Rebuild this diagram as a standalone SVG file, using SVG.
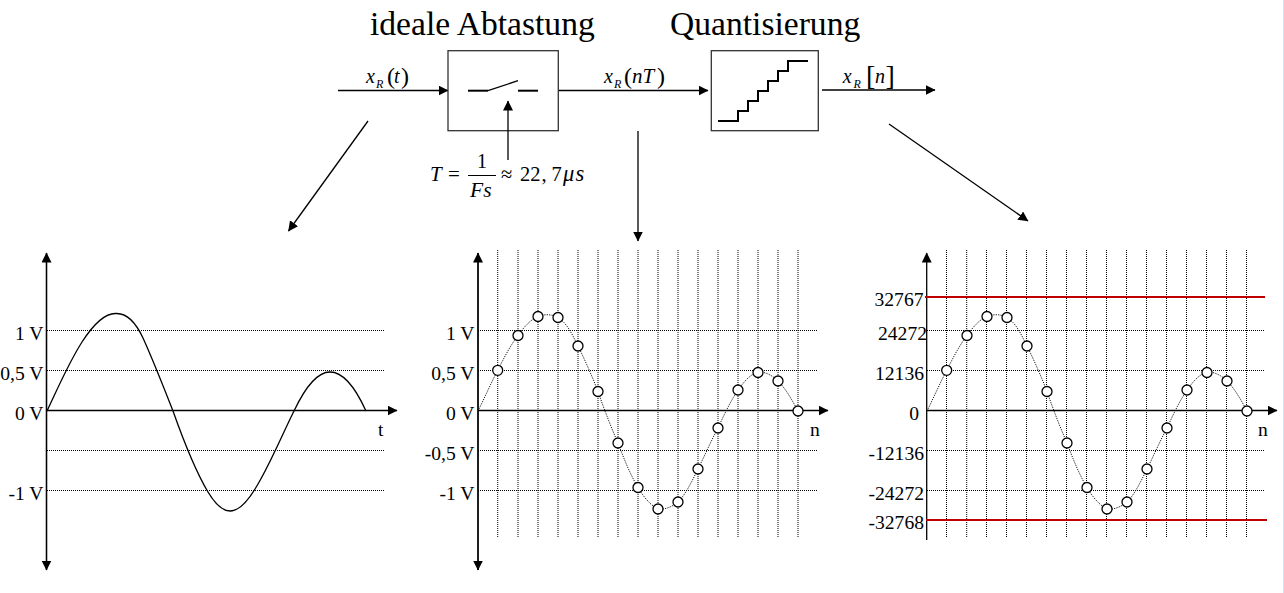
<svg xmlns="http://www.w3.org/2000/svg" width="1284" height="593" viewBox="0 0 1284 593">
<defs>
<marker id="ah" markerUnits="userSpaceOnUse" markerWidth="12" markerHeight="12" refX="9.5" refY="5" orient="auto"><path d="M0,0L10,5L0,10Z" fill="#000"/></marker>
<g id="pt"><circle r="5" class="pt"/></g>
<path id="samples" d="M478,411C485,397 491,383 497.7,370.3C504,358 510,346 518,335.5C524,327 530,320 538,316.5C544,314 552,314 558,317.5C567,323 572,334 578,346C585,360 592,376 598,391.5C604,409 611,427 618,443C624,459 630,474 638,487.5C643,496 650,505 658,509C664,510 672,507 678,502C686,494 692,481 698,469C705,455 711,441 718,428C724,415 730,402 738,390C744,382 750,374 758,372.5C765,371 773,376 778,381C786,389 792,400 798,411"/>
</defs>
<style>
.t{font-family:"Liberation Serif","Times New Roman",serif;fill:#000}
.a{font-size:19.6px}
.e{text-anchor:end}
.i{font-style:italic}
.ln{stroke:#000;stroke-width:1.3;fill:none}
.cn{stroke:#000;stroke-width:1.3;fill:none;marker-end:url(#ah)}
.th{stroke:#000;stroke-width:2;fill:none}
.box{fill:#fff;stroke:#333;stroke-width:1.3}
.g{stroke:#000;stroke-width:1;stroke-dasharray:1 1;fill:none}
.red{stroke:#c00000;stroke-width:2;fill:none}
.pt{fill:#fff;stroke:#000;stroke-width:1.3}
.s{stroke:#111;stroke-width:1;stroke-dasharray:1.2 1.2;fill:none}
</style>
<line x1="1283.5" y1="0" x2="1283.5" y2="593" stroke="#cfe6f5" stroke-width="1"/>
<g id="connectors">
<path class="cn" d="M338,90.5H448"/>
<path class="cn" d="M558,90.5H708"/>
<path class="cn" d="M822,90H935"/>
<path class="cn" d="M368,121L288.5,231"/>
<path class="cn" d="M638,131V241"/>
<path class="cn" d="M889,124L1028,221"/>
</g>
<g id="title-abtastung"><text class="t" x="370" y="35" font-size="33.6">ideale Abtastung</text></g>
<g id="title-quantisierung"><text class="t" x="670" y="35" font-size="33.6">Quantisierung</text></g>
<g id="sampler">
<rect class="box" x="448" y="50.7" width="110.3" height="80"/>
<path class="th" d="M468,90.7H488"/><path class="ln" d="M488,90.7L518,80.7"/><path class="th" d="M518,90.7H538"/>
<path class="cn" d="M508,160V101"/>
</g>
<g id="quantizer">
<rect class="box" x="711.3" y="50.7" width="107" height="80"/>
<path class="th" d="M718,121H738V111H748V101H758V91H768V81H778V71H788V61H808"/>
</g>
<g id="label-xt"><text class="t i" x="366" y="83" font-size="20">x</text><text class="t i" x="376" y="87.5" font-size="12">R</text><text class="t" x="387" y="84" font-size="24">(</text><text class="t i" x="394" y="83" font-size="20">t</text><text class="t" x="401" y="84" font-size="24">)</text></g>
<g id="label-xnt"><text class="t i" x="604" y="83" font-size="20">x</text><text class="t i" x="614" y="87.5" font-size="12">R</text><text class="t" x="624" y="84" font-size="24">(</text><text class="t i" x="632" y="83" font-size="21">nT</text><text class="t" x="657" y="84" font-size="24">)</text></g>
<g id="label-xn"><text class="t i" x="842.7" y="83" font-size="20">x</text><text class="t i" x="853.5" y="87.5" font-size="12">R</text><text class="t" x="866" y="85" font-size="28">[</text><text class="t i" x="875" y="83" font-size="20">n</text><text class="t" x="885.5" y="85" font-size="28">]</text></g>
<g id="formula">
<text class="t i" x="430" y="181" font-size="21">T</text><text class="t" x="448" y="181" font-size="21">=</text>
<text class="t" x="477" y="168" font-size="20">1</text><line x1="468" y1="175.5" x2="496" y2="175.5" stroke="#000" stroke-width="1"/>
<text class="t i" x="470" y="197" font-size="21.5">Fs</text>
<text class="t" x="501" y="181" font-size="20.5">≈</text><text class="t" x="520" y="181" font-size="20.5">22</text><text class="t" x="541.5" y="181" font-size="20.5">,</text><text class="t" x="551.5" y="181" font-size="20.5">7</text><text class="t i" x="563" y="181" font-size="22.5" letter-spacing="1.2">μs</text>
</g>
<g id="plot-continuous">
<path class="g" d="M47,330.5H385M47,370.5H385M47,450.5H385M47,490.5H385"/>
<path class="cn" d="M46.5,570V253"/><path class="cn" d="M46.5,253V570"/>
<path class="cn" d="M46,410.5H397"/>
<path class="ln" d="M47,411C58,388 68,364 82,342C93,325 104,313 116,313.5C127,313 136,323 143,338C153,360 164,388 173,411C184,442 196,472 208,492C214,502 222,511 230,511C240,511 250,498 258,484C271,462 283,433 294,411C303,392 315,372 330,372C344,372 356,389 366,411"/>
<text class="t a e" x="43.500" y="340">1 V</text><text class="t a e" x="43.500" y="380">0,5 V</text><text class="t a e" x="43.500" y="420">0 V</text><text class="t a e" x="43.500" y="499.500">-1 V</text>
<text class="t a" x="378" y="436">t</text>
</g>
<g id="plot-sampled">
<path class="g" d="M497.7,250V538M518,250V538M538,250V538M558,250V538M578,250V538M598,250V538M618,250V538M638,250V538M658,250V538M678,250V538M698,250V538M718,250V538M738,250V538M758,250V538M778,250V538M798,250V538"/>
<path class="g" d="M478,330.5H817M478,370.5H817M478,450.5H817M478,490.5H817"/>
<path class="cn" d="M478,570V253"/><path class="cn" d="M478,253V570"/>
<path class="cn" d="M478,410.5H828"/>
<use href="#samples" class="s"/>
<use href="#pt" x="497.7" y="370.3"/><use href="#pt" x="518" y="335.5"/><use href="#pt" x="538" y="316.5"/><use href="#pt" x="558" y="317.5"/><use href="#pt" x="578" y="346"/><use href="#pt" x="598" y="391.5"/><use href="#pt" x="618" y="443"/><use href="#pt" x="638" y="487.5"/><use href="#pt" x="658" y="509"/><use href="#pt" x="678" y="502"/><use href="#pt" x="698" y="469"/><use href="#pt" x="718" y="428"/><use href="#pt" x="738" y="390"/><use href="#pt" x="758" y="372.5"/><use href="#pt" x="778" y="381"/><use href="#pt" x="798" y="411"/>
<text class="t a e" x="474.500" y="340">1 V</text><text class="t a e" x="474.500" y="380">0,5 V</text><text class="t a e" x="474.500" y="420">0 V</text><text class="t a e" x="474.500" y="460">-0,5 V</text><text class="t a e" x="474.500" y="499.500">-1 V</text>
<text class="t a" x="810" y="436">n</text>
</g>
<g id="plot-quantized">
<path class="g" d="M946.5,250V538M966.7,250V538M986.5,250V538M1006.5,250V538M1026.5,250V538M1046.5,250V538M1066.5,250V538M1086.5,250V538M1106.5,250V538M1126.5,250V538M1146.5,250V538M1166.5,250V538M1186.5,250V538M1206.5,250V538M1226.5,250V538M1246.5,250V538"/>
<path class="g" d="M927,330.5H1265M927,370.5H1265M927,450.5H1265M927,490.5H1265"/>
<path class="cn" d="M926.700,540V253"/>
<path class="cn" d="M927,410.5H1277"/>
<path class="red" d="M925,297H1265M926,520H1267"/>
<use href="#samples" class="s" x="449"/>
<use href="#pt" x="946.7" y="370.3"/><use href="#pt" x="967" y="335.5"/><use href="#pt" x="987" y="316.5"/><use href="#pt" x="1007" y="317.5"/><use href="#pt" x="1027" y="346"/><use href="#pt" x="1047" y="391.5"/><use href="#pt" x="1067" y="443"/><use href="#pt" x="1087" y="487.5"/><use href="#pt" x="1107" y="509"/><use href="#pt" x="1127" y="502"/><use href="#pt" x="1147" y="469"/><use href="#pt" x="1167" y="428"/><use href="#pt" x="1187" y="390"/><use href="#pt" x="1207" y="372.5"/><use href="#pt" x="1227" y="381"/><use href="#pt" x="1247" y="411"/>
<text class="t a e" x="923.500" y="306">32767</text><text class="t a e" x="927" y="340">24272</text><text class="t a e" x="924" y="380">12136</text><text class="t a e" x="919" y="420">0</text><text class="t a e" x="924" y="460">-12136</text><text class="t a e" x="924" y="499.500">-24272</text><text class="t a e" x="924" y="529">-32768</text>
<text class="t a" x="1258" y="436">n</text>
</g>
</svg>
